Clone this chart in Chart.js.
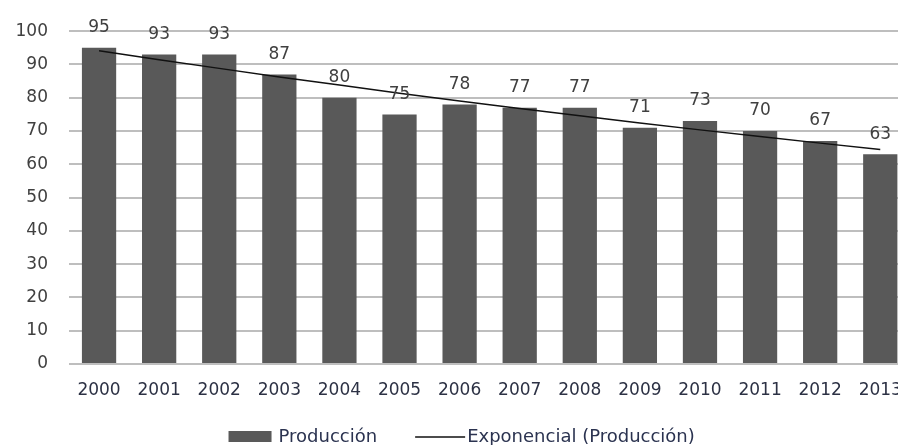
<!DOCTYPE html>
<html>
<head>
<meta charset="utf-8">
<script src="https://cdn.jsdelivr.net/npm/chart.js@4/dist/chart.umd.min.js"></script>
<style>
    body { margin: 0; background: #fff; }
    .frame { width: 898px; height: 445px; overflow: hidden; }
    canvas { display: block; }
</style>
</head>
<body>
<div class="frame">
    <canvas id="produccionChart" width="918" height="445"></canvas>
</div>
<script>
const years = ['2000', '2001', '2002', '2003', '2004', '2005', '2006',
    '2007', '2008', '2009', '2010', '2011', '2012', '2013']
const produccion = [95, 93, 93, 87, 80, 75, 78, 77, 77, 71, 73, 70, 67, 63]
// exponential trend of the production series, one value per year
const exponencial = [94.16, 91.45, 88.83, 86.27, 83.80, 81.39, 79.05,
    76.78, 74.58, 72.43, 70.35, 68.33, 66.37, 64.46]
const yTicks = [0, 10, 20, 30, 40, 50, 60, 70, 80, 90, 100]

const FONT = "'DejaVu Sans', Verdana, sans-serif"
const BAR_COLOR = '#595959'
const LINE_COLOR = '#111111'

// value written above every bar
const barValues = {
    id: 'barValues',
    afterDatasetsDraw(chart) {
        const meta = chart.getDatasetMeta(0)
        const ctx = chart.ctx
        ctx.save()
        ctx.font = '17px ' + FONT
        ctx.fillStyle = '#404040'
        ctx.textAlign = 'center'
        ctx.textBaseline = 'middle'
        meta.data.forEach((bar, i) => {
            ctx.fillText(String(produccion[i]), bar.x, bar.y - 20)
        })
        ctx.restore()
    }
}

// legend row under the axis: filled box for the bars, short stroke for the trend
const bottomLegend = {
    id: 'bottomLegend',
    afterDraw(chart) {
        const ctx = chart.ctx
        const area = chart.chartArea
        const sets = chart.data.datasets
        ctx.save()
        ctx.font = '18px ' + FONT
        const w1 = ctx.measureText(sets[0].label).width
        const w2 = ctx.measureText(sets[1].label).width
        const total = 43 + 7 + w1 + 38 + 50 + 2 + w2
        const y = area.bottom + 73
        let x = (area.left + area.right) / 2 - 28 - total / 2

        ctx.fillStyle = BAR_COLOR
        ctx.fillRect(x, y - 6, 43, 11)
        x += 50
        ctx.fillStyle = '#2b3350'
        ctx.textBaseline = 'middle'
        ctx.fillText(sets[0].label, x, y)
        x += w1 + 38

        ctx.strokeStyle = LINE_COLOR
        ctx.lineWidth = 1.5
        ctx.beginPath()
        ctx.moveTo(x, y)
        ctx.lineTo(x + 50, y)
        ctx.stroke()
        x += 52
        ctx.fillText(sets[1].label, x, y)
        ctx.restore()
    }
}

const myChart = new Chart(document.getElementById('produccionChart'), {
    type: 'bar',
    data: {
        labels: years,
        datasets: [
            {
                label: 'Producción',
                data: produccion,
                backgroundColor: BAR_COLOR,
                borderWidth: 0,
                categoryPercentage: 1,
                barPercentage: 0.57,
                order: 1
            },
            {
                type: 'line',
                label: 'Exponencial (Producción)',
                data: exponencial,
                borderColor: LINE_COLOR,
                borderWidth: 1.5,
                pointRadius: 0,
                fill: false,
                tension: 0,
                order: 0
            }
        ]
    },
    options: {
        responsive: false,
        animation: false,
        layout: {
            padding: { top: 31, right: 3, left: 0, bottom: 40 }
        },
        scales: {
            x: {
                grid: { display: false, drawTicks: false },
                border: { display: false },
                ticks: {
                    padding: 16,
                    color: '#2c3144',
                    font: { family: FONT, size: 17 }
                },
                afterFit(scale) {
                    scale.height = 41
                }
            },
            y: {
                min: 0,
                max: 100,
                afterBuildTicks(scale) {
                    scale.ticks = yTicks.map((v) => ({ value: v }))
                },
                grid: { color: '#bebebe', lineWidth: 2, drawTicks: false },
                border: { display: false },
                ticks: {
                    padding: 21,
                    color: '#404040',
                    font: { family: FONT, size: 17 }
                },
                afterFit(scale) {
                    scale.width = 69
                }
            }
        },
        plugins: {
            tooltip: { enabled: false },
            legend: { display: false }
        }
    },
    plugins: [barValues, bottomLegend]
})
</script>
</body>
</html>
